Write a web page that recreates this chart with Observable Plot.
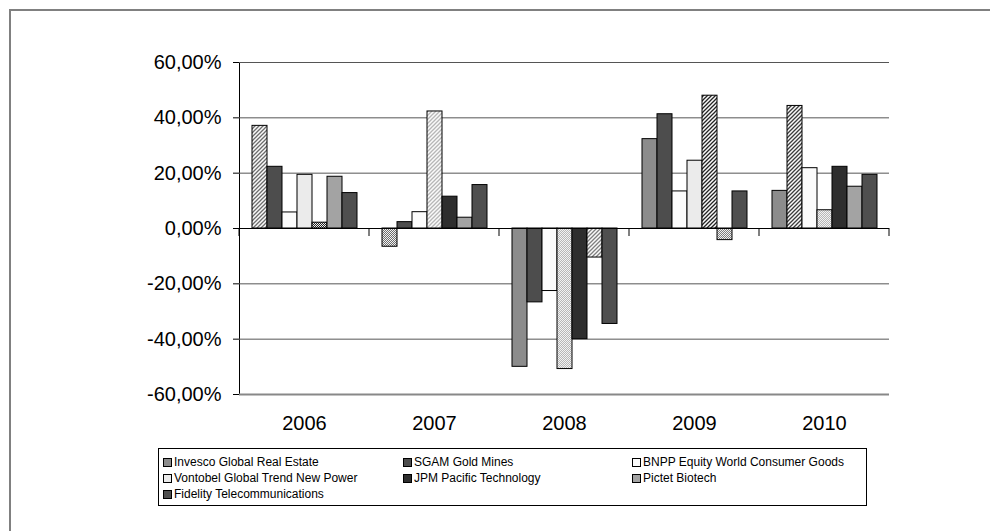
<!DOCTYPE html>
<html>
<head>
<meta charset="utf-8">
<script src="https://cdn.jsdelivr.net/npm/d3@7"></script>
<script src="https://cdn.jsdelivr.net/npm/@observablehq/plot@0.6"></script>
<style>
  html, body { margin: 0; padding: 0; background: #fff; }
  #wrap { position: relative; width: 990px; height: 531px; overflow: hidden; background: #fff; }
  #chart { position: absolute; left: 0; top: 0; }
  #frame { position: absolute; left: 9px; top: 9px; width: 1100px; height: 700px; border: 2px solid #808080; pointer-events: none; }
  #legend { position: absolute; left: 158px; top: 448px; width: 709px; height: 58px; border: 1px solid #000;
            font-family: 'Liberation Sans', Arial, sans-serif; font-size: 12px; color: #000;
            display: grid; grid-template-columns: 240px 229px 230px; grid-auto-rows: 16px; padding: 5px 0 0 4px; box-sizing: border-box; }
  .item { display: flex; align-items: center; white-space: nowrap; }
  .sw { width: 7px; height: 7px; border: 1px solid #000; margin-right: 2px; flex: none; }
</style>
</head>
<body>
<div id="wrap">
  <div id="chart"></div>
  <div id="legend"></div>
  <div id="frame"></div>
</div>
<script>
const years = ["2006", "2007", "2008", "2009", "2010"];
const series = [
  "Invesco Global Real Estate",
  "SGAM Gold Mines",
  "BNPP Equity World Consumer Goods",
  "Vontobel Global Trend New Power",
  "JPM Pacific Technology",
  "Pictet Biotech",
  "Fidelity Telecommunications"
];
const colors = ["#8c8c8c", "#4d4d4d", "#fbfbfb", "#ebebeb", "#2e2e2e", "#a3a3a3", "#4f4f4f"];

// yearly performance in %, one array per fund (2006..2010)
const invesco  = [37.1,  -6.6, -50.0, 32.3, 13.6];
const sgam     = [22.3,   2.3, -26.7, 41.3, 44.3];
const bnpp     = [ 5.8,   5.9, -22.6, 13.4, 21.8];
const vontobel = [19.4,  42.3, -50.8, 24.5,  6.6];
const jpm      = [ 2.1,  11.5, -40.0, 48.0, 22.3];
const pictet   = [18.7,   3.9, -10.5, -4.2, 15.1];
const fidelity = [12.8,  15.7, -34.5, 13.4, 19.4];

const yTicks = [-60, -40, -20, 0, 20, 40, 60];

const table = [invesco, sgam, bnpp, vontobel, jpm, pictet, fidelity];

// best fund of each year drawn hatched, worst drawn dotted
const rows = years.flatMap((yr, j) => {
  const vals = table.map(s => s[j]);
  const mx = d3.max(vals), mn = d3.min(vals);
  return series.map((s, i) => ({
    year: yr, series: s, value: vals[i],
    fill: vals[i] === mx ? `url(#hatch${i})` : vals[i] === mn ? `url(#dots${i})` : colors[i]
  }));
});

const fmt = d => d.toFixed(2).replace(".", ",") + "%";

const chart = Plot.plot({
  width: 990,
  height: 531,
  marginLeft: 238,
  marginRight: 101,
  marginTop: 62,
  marginBottom: 137,
  style: { fontFamily: "'Liberation Sans', Arial, sans-serif", fontSize: "20px", background: "transparent", color: "#000", overflow: "visible" },
  facet: { data: rows, x: "year" },
  fx: { domain: years, padding: 0, axis: "bottom", tickSize: 0, tickPadding: 21, label: null },
  x: { domain: series, paddingInner: 0, paddingOuter: 0.75, axis: null },
  y: { domain: [-60, 60], ticks: yTicks, tickFormat: fmt, tickSize: 6, tickPadding: 12, label: null, line: true },
  color: { type: "identity" },
  marks: [
    Plot.ruleY(yTicks.filter(t => t !== 0 && t !== -60), { stroke: "#555", strokeWidth: 1 }),
    Plot.ruleY([-60], { stroke: "#888", strokeWidth: 2 }),
    Plot.barY(rows, { x: "series", y: "value", fill: "fill", stroke: "#000", strokeWidth: 1 }),
    Plot.ruleY([0], { stroke: "#000", strokeWidth: 1 })
  ]
});

// patterns
const svg = d3.select(chart);
const defs = svg.insert("defs", ":first-child");
colors.forEach((c, i) => {
  const dark = d3.color(c).darker(0.7).formatHex();
  const h = defs.append("pattern").attr("id", `hatch${i}`).attr("patternUnits", "userSpaceOnUse")
    .attr("width", 4).attr("height", 4);
  h.append("rect").attr("width", 4).attr("height", 4).attr("fill", "#fafafa");
  h.append("path").attr("d", "M-1,1 l2,-2 M0,4 l4,-4 M3,5 l2,-2").attr("stroke", dark).attr("stroke-width", 1.3);
  const p = defs.append("pattern").attr("id", `dots${i}`).attr("patternUnits", "userSpaceOnUse")
    .attr("width", 2).attr("height", 2);
  p.append("rect").attr("width", 2).attr("height", 2).attr("fill", "#f2f2f2");
  p.append("rect").attr("width", 1).attr("height", 1).attr("fill", dark);
  p.append("rect").attr("x", 1).attr("y", 1).attr("width", 1).attr("height", 1).attr("fill", dark);
});

// category boundary ticks on the zero line, from the fx and y scales
const fx = chart.scale("fx");
const ys = chart.scale("y");
const y0 = ys.apply(0);
const bounds = years.map(y => fx.apply(y)).concat([fx.apply(years[years.length - 1]) + fx.bandwidth]);
svg.append("g").selectAll("line").data(bounds).join("line")
  .attr("x1", d => d).attr("x2", d => d)
  .attr("y1", y0).attr("y2", y0 + 8)
  .attr("stroke", "#000").attr("stroke-width", 1);

document.getElementById("chart").appendChild(chart);

// legend
const legend = d3.select("#legend");
series.forEach((s, i) => {
  const it = legend.append("div").attr("class", "item");
  it.append("div").attr("class", "sw").style("background", colors[i]);
  it.append("span").text(s);
});
</script>
</body>
</html>
